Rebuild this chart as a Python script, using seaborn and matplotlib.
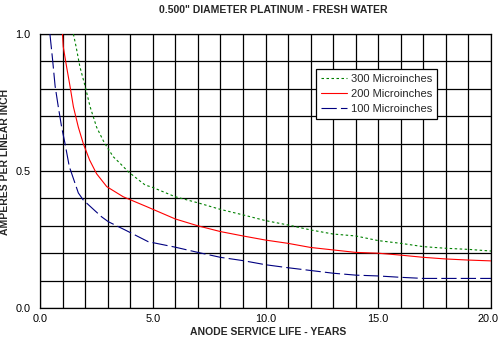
import matplotlib
matplotlib.use("Agg")
import matplotlib.pyplot as plt
import matplotlib.transforms as mtransforms
import seaborn as sns
import pandas as pd
from matplotlib.ticker import MultipleLocator, FixedLocator

# ---- data ----
x_300 = [1.48, 1.6, 1.77, 2.0, 2.22, 2.51, 2.81, 2.96, 3.25, 3.55, 3.92, 4.66, 5, 6, 7, 8, 9, 10,
         11, 12, 13, 14, 15, 16, 17, 18, 19, 20]
y_300 = [1.0, 0.954, 0.88, 0.81, 0.735, 0.66, 0.61, 0.589, 0.552, 0.528, 0.497, 0.449, 0.44, 0.406,
         0.384, 0.36, 0.34, 0.319, 0.303, 0.285, 0.27, 0.263, 0.246, 0.236, 0.224, 0.218, 0.214, 0.208]

x_200 = [0.99, 1.03, 1.18, 1.33, 1.48, 1.70, 1.92, 2.2, 2.51, 2.96, 3.69, 4.73, 6, 7, 8, 9, 10,
         11, 12, 13, 14, 15, 16, 17, 18, 19, 20]
y_200 = [1.01, 0.954, 0.88, 0.81, 0.735, 0.66, 0.60, 0.54, 0.49, 0.443, 0.406, 0.37, 0.325, 0.3,
         0.279, 0.263, 0.248, 0.236, 0.221, 0.212, 0.203, 0.2, 0.193, 0.185, 0.179, 0.175, 0.172]

x_100 = [0.44, 0.56, 0.67, 0.81, 0.96, 1.11, 1.30, 1.70, 1.92, 2.73, 3.03, 3.77, 4.8, 6, 7, 8, 9,
         10, 11, 12, 13, 14, 15, 16, 17, 18, 20]
y_100 = [1.0, 0.905, 0.81, 0.735, 0.66, 0.60, 0.516, 0.42, 0.394, 0.333, 0.315, 0.285, 0.242,
         0.222, 0.203, 0.185, 0.173, 0.158, 0.147, 0.137, 0.127, 0.12, 0.117, 0.112, 0.108,
         0.108, 0.108]

labels = ["300 Microinches", "200 Microinches", "100 Microinches"]
x_ticks = [0, 5, 10, 15, 20]
x_tick_labels = ["0.0", "5.0", "10.0", "15.0", "20.0"]
y_ticks = [0.0, 0.5, 1.0]
y_tick_labels = ["0.0", "0.5", "1.0"]

title = '0.500" DIAMETER PLATINUM - FRESH WATER'
xlabel = "ANODE SERVICE LIFE - YEARS"
ylabel = "AMPERES PER LINEAR INCH"

# ---- styling ----
sns.set_style("white")
plt.rcParams["font.family"] = ["Liberation Sans", "DejaVu Sans"]
plt.rcParams["lines.scale_dashes"] = False

fig = plt.figure(figsize=(5.0, 3.45), dpi=100)
ax = fig.add_axes([0.08, 0.1072, 0.902, 0.7942])

colors = ["#008000", "#ff0000", "#000080"]
dashes = [(1.8, 1.8), None, (11, 3)]
series = [(x_300, y_300), (x_200, y_200), (x_100, y_100)]

for (xs, ys), lab, col, dsh in zip(series, labels, colors, dashes):
    df = pd.DataFrame({"x": xs, "y": ys})
    sns.lineplot(data=df, x="x", y="y", ax=ax, color=col, lw=0.8, sort=False,
                 label=lab, estimator=None, zorder=3)
    if dsh is not None:
        ax.lines[-1].set_dashes(dsh)

ax.set_xlim(0, 20)
ax.set_ylim(0, 1.0)
ax.xaxis.set_major_locator(FixedLocator(x_ticks))
ax.set_xticklabels(x_tick_labels)
ax.yaxis.set_major_locator(FixedLocator(y_ticks))
ax.set_yticklabels(y_tick_labels)
ax.xaxis.set_minor_locator(MultipleLocator(1))
ax.yaxis.set_minor_locator(MultipleLocator(0.1))
ax.grid(which="both", color="black", lw=0.9)
ax.tick_params(which="both", length=0, labelsize=7.8, colors="black")
ax.tick_params(axis="x", pad=4)
ax.tick_params(axis="y", pad=7)
for s in ax.spines.values():
    s.set_color("black")
    s.set_linewidth(0.9)

# shift the last x tick label slightly left so it stays inside the figure
last = ax.get_xticklabels()[-1]
last.set_transform(last.get_transform() +
                   mtransforms.ScaledTranslation(-3 / 100, 0, fig.dpi_scale_trans))

ax.set_xlabel(xlabel, fontsize=7.5, fontweight="bold")
ax.xaxis.set_label_coords(0.505, -0.07)
ax.set_ylabel(ylabel, fontsize=7.5, fontweight="bold")
ax.yaxis.set_label_coords(-0.066, 0.533)
fig.text(0.546, 0.985, title, ha="center", va="top", fontsize=7.5, fontweight="bold")

leg = ax.legend(loc="upper left", bbox_to_anchor=(0.611, 0.872), borderaxespad=0,
                fontsize=8, frameon=True, fancybox=False, shadow=False,
                handlelength=2.4, handletextpad=0.3, labelspacing=0.45, borderpad=0.45)
leg.get_frame().set_edgecolor("black")
leg.get_frame().set_linewidth(0.9)
leg.get_frame().set_alpha(1)

fig.savefig("out.png", dpi=100)
